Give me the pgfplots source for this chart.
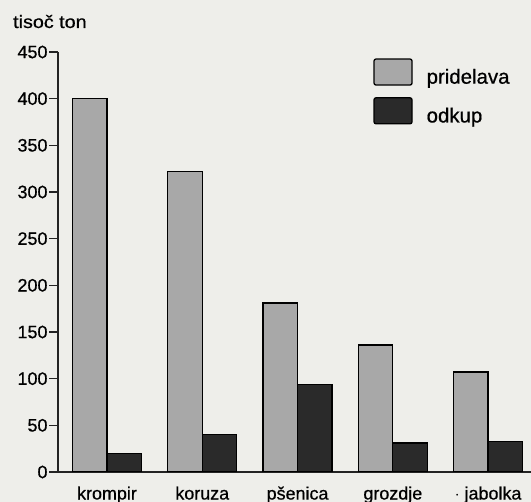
\documentclass[border=0pt]{standalone}
\usepackage{pgfplots}
\pgfplotsset{compat=1.18}
\usepackage{graphicx}
\usepackage{fontspec}
\setmainfont{Liberation Sans}[FakeBold=0.6]
\definecolor{bg}{RGB}{238,238,234}
\definecolor{lgray}{RGB}{168,168,168}
\definecolor{dgray}{RGB}{42,42,42}
\definecolor{axc}{RGB}{35,35,35}
\begin{document}
\begin{tikzpicture}[x=1bp,y=1bp]
\fill[bg] (0,0) rectangle (531,502);
\useasboundingbox (0,0) rectangle (531,502);
\begin{axis}[
  at={(58bp,30bp)}, anchor=south west,
  scale only axis, width=473bp, height=420bp,
  xmin=-0.514, xmax=4.45, ymin=0, ymax=450,
  ybar=0pt, bar width=34.5bp,
  axis x line*=bottom, axis y line*=left,
  axis line style={-, line width=1.4pt, draw=axc},
  xtick=data,
  xticklabels={krompir,koruza,pšenica,grozdje,{$\cdot$ jabolka}},
  xtick style={draw=none},
  xticklabel style={font=\fontsize{18}{18}\selectfont, yshift=-2bp},
  ytick={0,50,...,450},
  ytick style={line width=1.2pt, draw=axc},
  tick align=outside, major tick length=9bp,
  yticklabel style={font=\fontsize{18}{18}\selectfont, xshift=2bp},
  /pgf/number format/assume math mode=true,
  legend style={at={(0.660,0.99)}, anchor=north west, draw=none, fill=none,
    font=\fontsize{20.5}{20.5}\selectfont, row sep=10bp,
    /tikz/every odd column/.style={column sep=12bp}},
  legend cell align=left,
  legend image code/.code={\draw[#1, line width=1.3pt, rounded corners=2bp] (0bp,-8bp) rectangle (38bp,18bp);},
]
\addplot[fill=lgray, draw=black, line width=1.3pt] coordinates {(0,400) (1,322) (2,181) (3,136) (4,107)};
\addplot[fill=dgray, draw=black, line width=1.3pt] coordinates {(0,20) (1,40) (2,94) (3,31) (4,33)};
\legend{pridelava, odkup}
\end{axis}
\node[anchor=base west, font=\fontsize{18}{18}\selectfont, inner sep=0pt] at (13,474) {\scalebox{1.1}[1]{tisoč ton}};
\end{tikzpicture}
\end{document}
